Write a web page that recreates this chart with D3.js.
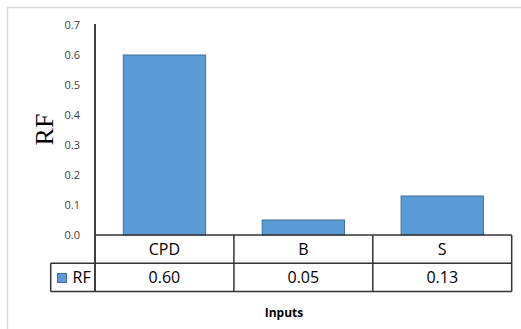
<!DOCTYPE html>
<html>
<head>
<meta charset="utf-8">
<script src="https://cdn.jsdelivr.net/npm/d3@7"></script>
<style>
  html, body { margin: 0; padding: 0; background: #fff; }
  svg { display: block; }
</style>
</head>
<body>
<svg id="chart" width="521" height="329"></svg>
<script>
// RF score for each input
const categories = ["CPD", "B", "S"];
const rfValues = [0.60, 0.05, 0.13];
const valueLabels = ["0.60", "0.05", "0.13"];
const yTicks = [0, 0.1, 0.2, 0.3, 0.4, 0.5, 0.6, 0.7];
const seriesName = "RF";
const xTitle = "Inputs";
const yTitle = "RF";

const svg = d3.select("#chart");
const barFill = "#5b9bd5", barStroke = "#41719c", lineColor = "#333";
const uiFont = "'Open Sans', sans-serif";

// chart area frame
svg.append("rect")
  .attr("x", 7.5).attr("y", 7.5).attr("width", 600).attr("height", 400)
  .attr("fill", "#fff").attr("stroke", "#d9d9d9").attr("stroke-width", 1.5);

const plotLeft = 95, plotRight = 511.7, plotTop = 25, plotBottom = 235;
const rowH = 28.3, legendLeft = 50.7;

const y = d3.scaleLinear().domain([0, 0.7]).range([plotBottom, plotTop]);
const col = d3.scaleBand().domain(categories).range([plotLeft, plotRight]).padding(0);
const xBar = d3.scaleBand().domain(categories).range([plotLeft, plotRight])
  .paddingInner(0.4).paddingOuter(0.2);

// y axis labels (no tick marks)
const yAxis = d3.axisLeft(y).tickValues(yTicks).tickFormat(d3.format(".1f"))
  .tickSize(0).tickPadding(15);
const gy = svg.append("g").attr("transform", `translate(${plotLeft},0)`).call(yAxis);
gy.select(".domain").remove();
gy.selectAll("text").attr("font-family", uiFont).attr("font-size", 11).attr("fill", "#404040");

// bars
svg.append("g").selectAll("rect").data(categories).join("rect")
  .attr("x", d => xBar(d) + 0.5)
  .attr("y", (d, i) => y(rfValues[i]))
  .attr("width", xBar.bandwidth() - 1)
  .attr("height", (d, i) => y(0) - y(rfValues[i]))
  .attr("fill", barFill).attr("stroke", barStroke).attr("stroke-width", 1);

// y axis line
svg.append("line")
  .attr("x1", plotLeft).attr("x2", plotLeft)
  .attr("y1", plotTop - 1).attr("y2", plotBottom + 2 * rowH)
  .attr("stroke", "#000").attr("stroke-width", 1.5);

// data table grid
const grid = svg.append("g").attr("stroke", lineColor).attr("stroke-width", 1.5);
grid.append("line").attr("x1", plotLeft).attr("x2", plotRight).attr("y1", plotBottom).attr("y2", plotBottom);
grid.append("line").attr("x1", legendLeft).attr("x2", plotRight).attr("y1", plotBottom + rowH).attr("y2", plotBottom + rowH);
grid.append("line").attr("x1", legendLeft).attr("x2", plotRight).attr("y1", plotBottom + 2 * rowH).attr("y2", plotBottom + 2 * rowH);
grid.append("line").attr("x1", legendLeft).attr("x2", legendLeft).attr("y1", plotBottom + rowH).attr("y2", plotBottom + 2 * rowH);
grid.selectAll("line.sep").data(categories).join("line").attr("class", "sep")
  .attr("x1", d => col(d) + col.bandwidth()).attr("x2", d => col(d) + col.bandwidth())
  .attr("y1", plotBottom).attr("y2", plotBottom + 2 * rowH);

// table text: categories and values
svg.append("g").selectAll("text").data(categories).join("text")
  .attr("x", d => col(d) + col.bandwidth() / 2)
  .attr("y", plotBottom + rowH / 2)
  .attr("dy", "0.35em")
  .attr("text-anchor", "middle")
  .attr("font-family", uiFont).attr("font-size", 16).attr("fill", "#000")
  .text(d => d);
svg.append("g").selectAll("text").data(categories).join("text")
  .attr("x", d => col(d) + col.bandwidth() / 2)
  .attr("y", plotBottom + rowH * 1.5)
  .attr("dy", "0.35em")
  .attr("text-anchor", "middle")
  .attr("font-family", uiFont).attr("font-size", 16).attr("fill", "#000")
  .text((d, i) => valueLabels[i]);

// legend key in table
svg.append("rect")
  .attr("x", 57.5).attr("y", 273.5).attr("width", 9).attr("height", 9)
  .attr("fill", barFill).attr("stroke", barStroke).attr("stroke-width", 1);
svg.append("text")
  .attr("x", 72.5).attr("y", plotBottom + rowH * 1.5).attr("dy", "0.35em")
  .attr("font-family", uiFont).attr("font-size", 16).attr("fill", "#000")
  .text(seriesName);

// axis titles
svg.append("text")
  .attr("x", 284).attr("y", 313).attr("dy", "0.35em")
  .attr("text-anchor", "middle")
  .attr("font-family", uiFont).attr("font-weight", "bold").attr("font-size", 12)
  .attr("fill", "#000")
  .text(xTitle);
svg.append("text")
  .attr("transform", "translate(43.5,129.5) rotate(-90)")
  .attr("dy", "0.35em")
  .attr("text-anchor", "middle")
  .attr("font-family", "'Liberation Serif', 'Times New Roman', serif").attr("font-size", 26)
  .attr("fill", "#000")
  .text(yTitle);
</script>
</body>
</html>
